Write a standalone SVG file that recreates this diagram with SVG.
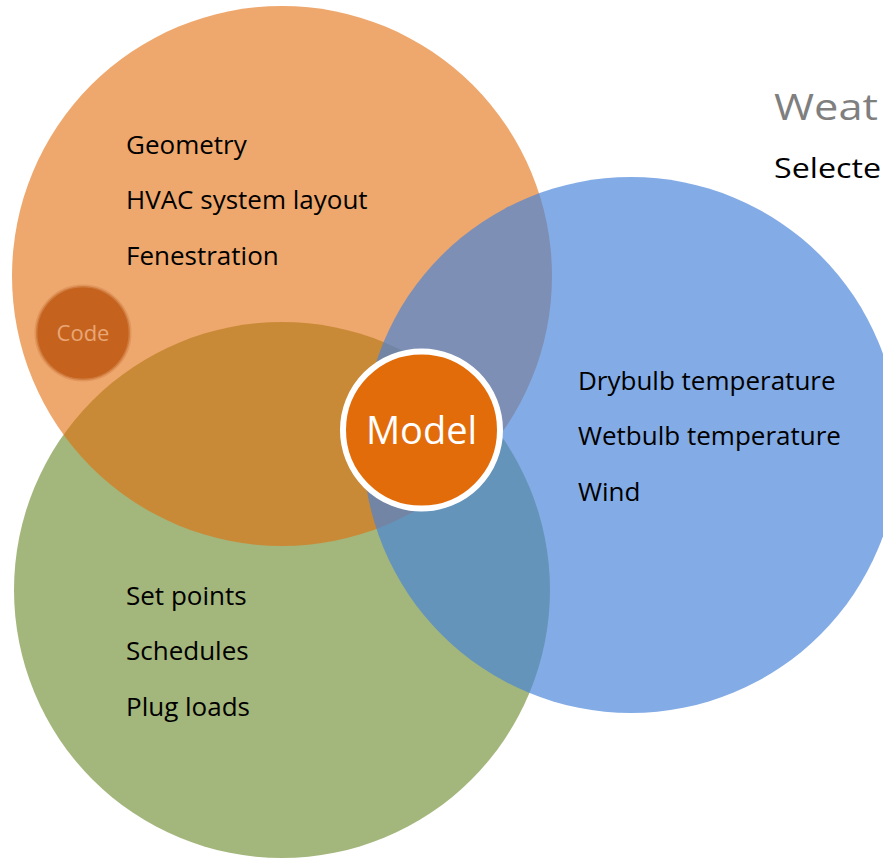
<svg xmlns="http://www.w3.org/2000/svg" width="883" height="861" viewBox="0 0 883 861">
  <style>
    .label { font-family: "Open Sans", "Liberation Sans", sans-serif; font-size: 26px; fill: #000000; }
    .title { font-family: "Open Sans", "Liberation Sans", sans-serif; font-size: 37px; fill: #7F7F7F; }
    .venn { stroke: none; }
  </style>
  <rect x="0" y="0" width="883" height="861" fill="#FFFFFF"/>

  <!-- Operations set (bottom layer) -->
  <g id="operations">
    <circle class="venn" cx="282" cy="590" r="268" fill="#77933C" fill-opacity="0.68"/>
    <text class="label" x="126" y="605">Set points</text>
    <text class="label" x="126" y="660">Schedules</text>
    <text class="label" x="126" y="716">Plug loads</text>
  </g>

  <!-- Building description set -->
  <g id="building">
    <circle class="venn" cx="282" cy="276" r="270" fill="#E36C0A" fill-opacity="0.6"/>
    <text class="label" x="126" y="154">Geometry</text>
    <text class="label" x="126" y="209">HVAC system layout</text>
    <text class="label" x="126" y="265">Fenestration</text>
  </g>

  <!-- Weather set (top layer) -->
  <g id="weather">
    <circle class="venn" cx="631" cy="445" r="268" fill="#4883D8" fill-opacity="0.68"/>
    <text class="label" x="578" y="390">Drybulb temperature</text>
    <text class="label" x="578" y="445">Wetbulb temperature</text>
    <text class="label" x="578" y="501">Wind</text>
  </g>

  <!-- Code badge -->
  <g id="code">
    <circle cx="83" cy="333" r="47" fill="#BD5710" fill-opacity="0.85" stroke="#D98A52" stroke-width="3" stroke-opacity="0.6"/>
    <text x="83" y="341" text-anchor="middle" font-family="Open Sans, Liberation Sans, sans-serif" font-size="22" fill="#E9A676">Code</text>
  </g>

  <!-- Central model node -->
  <g id="model">
    <circle cx="421.5" cy="430" r="78.5" fill="#E36C0A" stroke="#FFFFFF" stroke-width="6"/>
    <text x="421.5" y="444" text-anchor="middle" font-family="Open Sans, Liberation Sans, sans-serif" font-size="38" fill="#FFFFFF">Model</text>
  </g>

  <!-- Heading at right edge -->
  <g id="heading">
    <text class="title" x="774" y="120" textLength="104" lengthAdjust="spacingAndGlyphs">Weat</text>
    <text class="label" x="774" y="178" font-size="27" textLength="107" lengthAdjust="spacingAndGlyphs" style="font-size:27px">Selecte</text>
  </g>
</svg>
